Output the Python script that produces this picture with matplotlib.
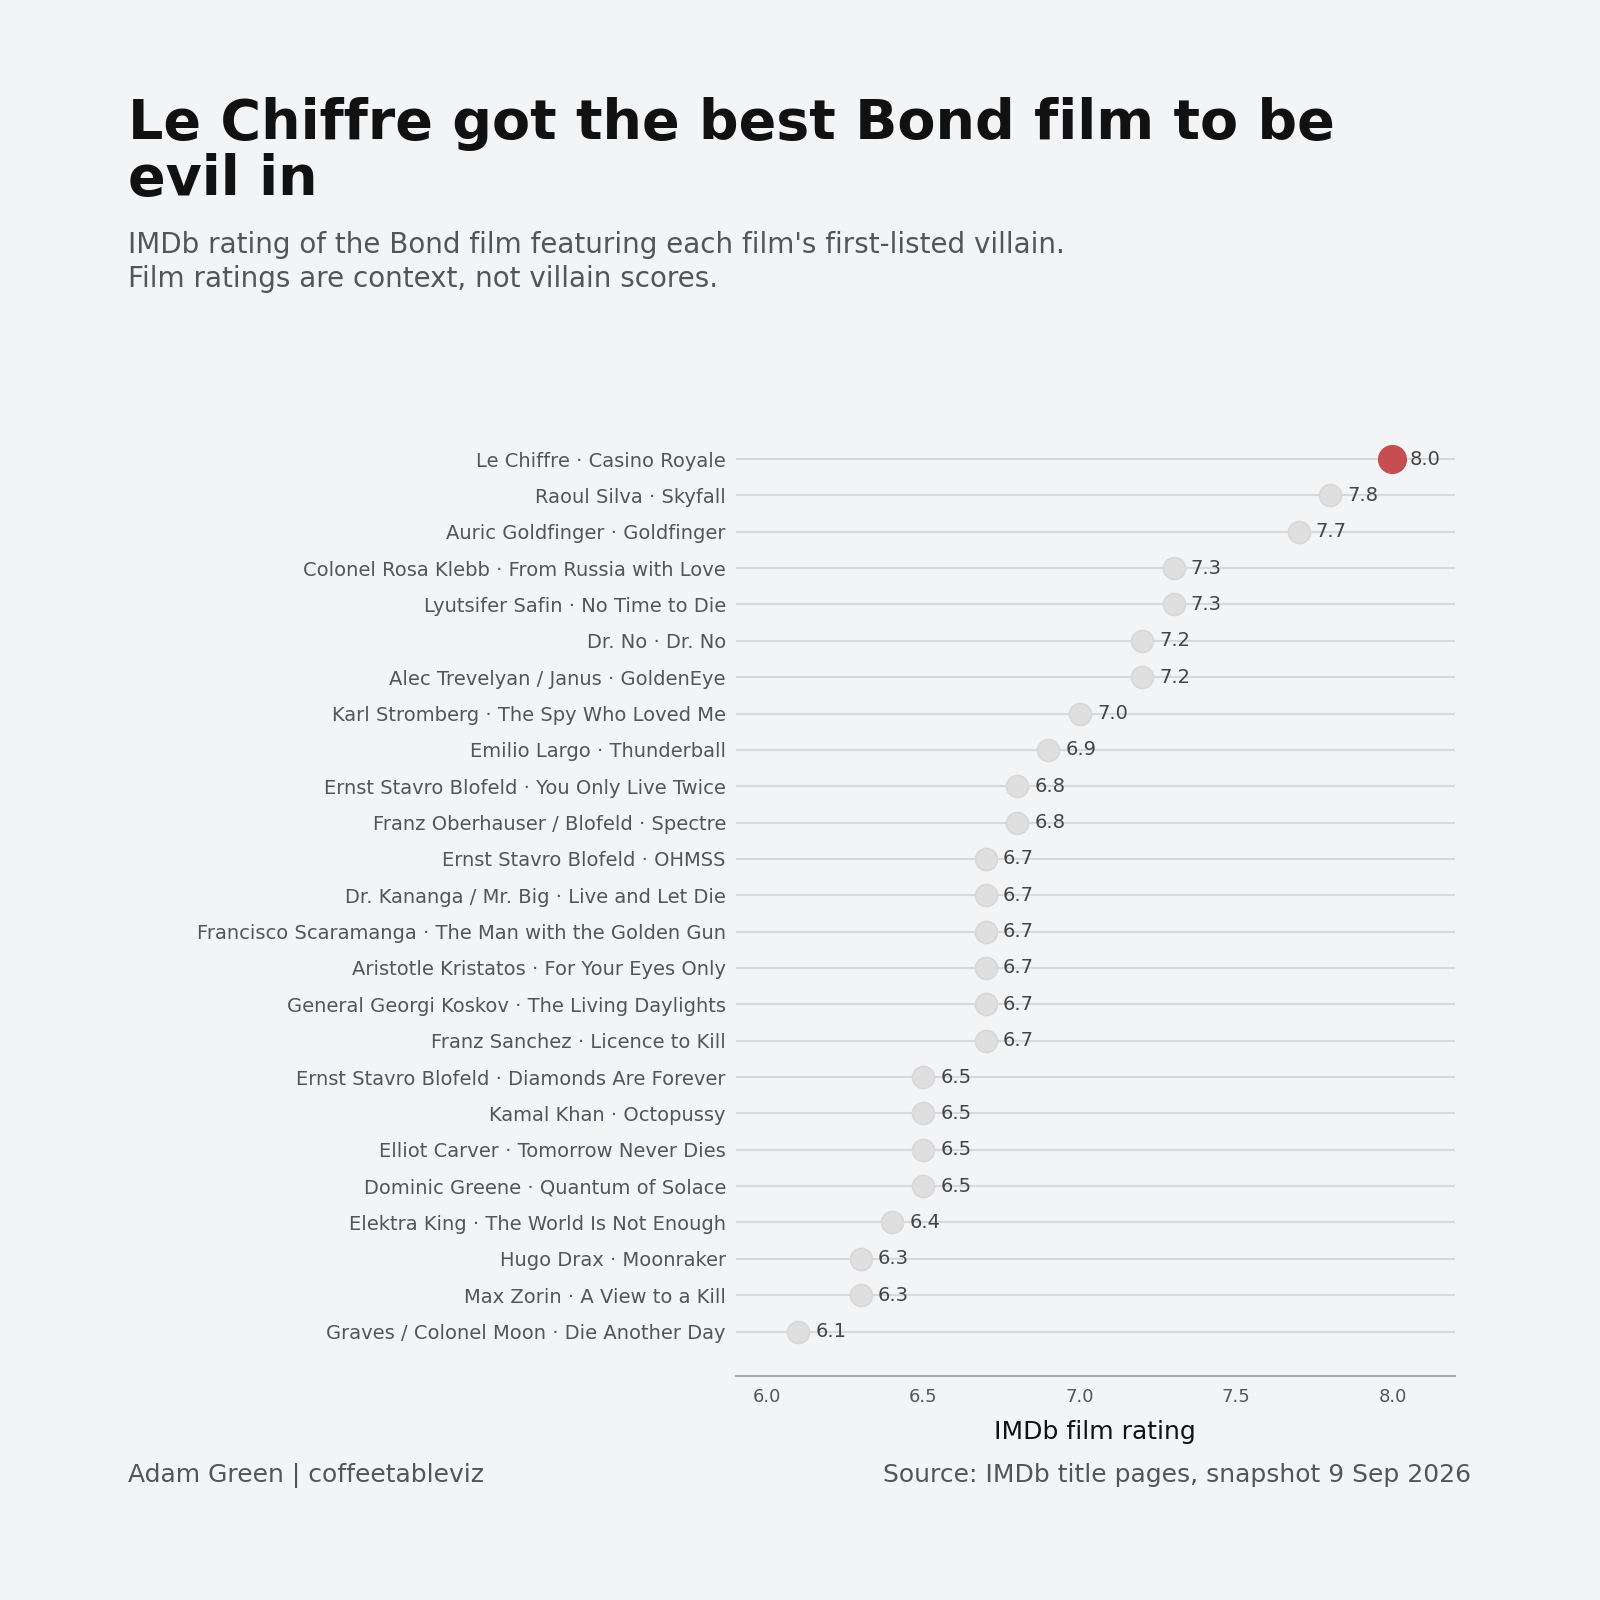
import matplotlib
matplotlib.use('Agg')
import matplotlib.pyplot as plt

# data, top row first
villains = [
    "Le Chiffre · Casino Royale",
    "Raoul Silva · Skyfall",
    "Auric Goldfinger · Goldfinger",
    "Colonel Rosa Klebb · From Russia with Love",
    "Lyutsifer Safin · No Time to Die",
    "Dr. No · Dr. No",
    "Alec Trevelyan / Janus · GoldenEye",
    "Karl Stromberg · The Spy Who Loved Me",
    "Emilio Largo · Thunderball",
    "Ernst Stavro Blofeld · You Only Live Twice",
    "Franz Oberhauser / Blofeld · Spectre",
    "Ernst Stavro Blofeld · OHMSS",
    "Dr. Kananga / Mr. Big · Live and Let Die",
    "Francisco Scaramanga · The Man with the Golden Gun",
    "Aristotle Kristatos · For Your Eyes Only",
    "General Georgi Koskov · The Living Daylights",
    "Franz Sanchez · Licence to Kill",
    "Ernst Stavro Blofeld · Diamonds Are Forever",
    "Kamal Khan · Octopussy",
    "Elliot Carver · Tomorrow Never Dies",
    "Dominic Greene · Quantum of Solace",
    "Elektra King · The World Is Not Enough",
    "Hugo Drax · Moonraker",
    "Max Zorin · A View to a Kill",
    "Graves / Colonel Moon · Die Another Day",
]
ratings = [8.0, 7.8, 7.7, 7.3, 7.3, 7.2, 7.2, 7.0, 6.9, 6.8, 6.8,
           6.7, 6.7, 6.7, 6.7, 6.7, 6.7, 6.5, 6.5, 6.5, 6.5, 6.4,
           6.3, 6.3, 6.1]
xticks = [6.0, 6.5, 7.0, 7.5, 8.0]

BG = '#f3f4f6'
GREY_DOT = '#dfdfdf'
RED = '#c44e52'

fig = plt.figure(figsize=(16, 16), dpi=100, facecolor=BG)
ax = fig.add_axes([0.4598, 0.1403, 0.4496, 0.6003])
ax.set_facecolor(BG)

n = len(villains)
ypos = list(range(n))[::-1]

for y in ypos:
    ax.axhline(y, color='#d9d9d9', lw=1.5, zorder=1)

for i, (v, r) in enumerate(zip(villains, ratings)):
    y = ypos[i]
    if i == 0:
        ax.scatter(r, y, s=440, color=RED, zorder=3, linewidths=0)
    else:
        ax.scatter(r, y, s=250, color=GREY_DOT, zorder=3, edgecolors='#d8d8d8', linewidths=1.2)
    ax.text(r + 0.055, y, f"{r:.1f}", va='center', ha='left', fontsize=14, color='#444444', zorder=4)

ax.set_xlim(5.9, 8.2)
ax.set_ylim(-1.21, n - 1 + 1.21)
ax.set_yticks(ypos)
ax.set_yticklabels(villains, fontsize=14, color='#555555')
ax.set_xticks(xticks)
ax.set_xticklabels([f"{t:.1f}" for t in xticks], fontsize=13, color='#555555')
ax.tick_params(axis='y', length=0, pad=7)
ax.tick_params(axis='x', length=0, pad=9)
ax.set_xlabel('IMDb film rating', fontsize=18, color='#111111', labelpad=10)

for side in ['top', 'right', 'left']:
    ax.spines[side].set_visible(False)
ax.spines['bottom'].set_color('#aaaaaa')
ax.spines['bottom'].set_linewidth(1.5)

fig.text(0.0797, 0.878, "Le Chiffre got the best Bond film to be\nevil in",
         fontsize=40, fontweight='bold', color='#111111', ha='left', va='baseline',
         linespacing=1.05)
fig.text(0.0797, 0.8205, "IMDb rating of the Bond film featuring each film's first-listed villain.\nFilm ratings are context, not villain scores.",
         fontsize=20, color='#555555', ha='left', va='baseline', linespacing=1.28)

fig.text(0.0797, 0.0737, "Adam Green | coffeetableviz", fontsize=18, color='#555555', ha='left', va='baseline')
fig.text(0.9196, 0.0737, "Source: IMDb title pages, snapshot 9 Sep 2026", fontsize=18, color='#555555', ha='right', va='baseline')

fig.savefig('out.png', dpi=100, facecolor=BG)
